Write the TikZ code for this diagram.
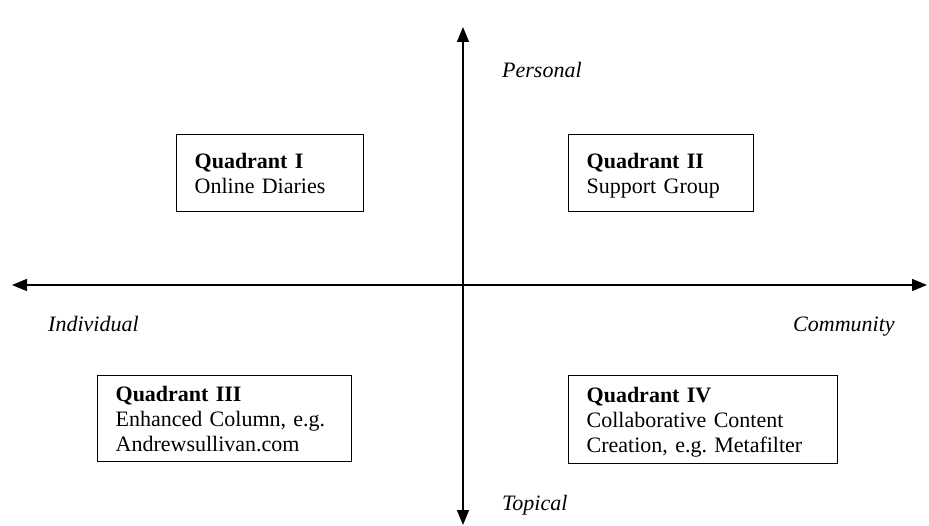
\documentclass[tikz,border=0pt]{standalone}
\usepackage{fontspec}
\setmainfont{Liberation Serif}
\usetikzlibrary{arrows.meta}
\frenchspacing

\begin{document}
\begin{tikzpicture}[x=1pt, y=-1pt,
		axis/.style={line width=1.5pt, {Triangle[length=15pt,width=12pt]}-{Triangle[length=15pt,width=12pt]}},
		quad/.style={draw, line width=1.3pt, anchor=north west, align=left, inner xsep=18pt, inner ysep=0pt,
			font=\fontsize{22}{25}\selectfont},
		axislabel/.style={anchor=base west, inner sep=0pt, font=\fontsize{22}{25}\selectfont\itshape}]
			\useasboundingbox (0,0) rectangle (929,526);
			
			% Axes
			\coordinate (top) at (463,27);
			\coordinate (bottom) at (463,525);
			\coordinate (left) at (12,285);
			\coordinate (right) at (927,285);
			\draw [axis] (bottom) -- (top);
			\draw [axis] (left) -- (right);
			
			% Axis labels
			\node [axislabel] (personal) at (502,78) {Personal};
			\node [axislabel] (individual) at (48,332) {Individual};
			\node [axislabel] (community) at (793,332) {Community};
			\node [axislabel] (topical) at (502,510) {Topical};
			
			% Quadrant boxes
			\node [quad, text width=151pt, minimum width=187pt, minimum height=77pt] (q1) at (176,134)
				{\rule{0pt}{23pt}\textbf{Quadrant I}\\Online Diaries\strut};
			\node [quad, text width=149pt, minimum width=185pt, minimum height=77pt] (q2) at (568,134)
				{\rule{0pt}{23pt}\textbf{Quadrant II}\\Support Group\strut};
			\node [quad, text width=218pt, minimum width=254pt, minimum height=86pt, inner xsep=16pt] (q3) at (97,375)
				{\rule{0pt}{23pt}\textbf{Quadrant III}\\Enhanced Column, e.g.\\Andrewsullivan.com\strut};
			\node [quad, text width=233pt, minimum width=269pt, minimum height=88pt] (q4) at (568,375)
				{\rule{0pt}{23pt}\textbf{Quadrant IV}\\Collaborative Content\\Creation, e.g. Metafilter\strut};
		\end{tikzpicture}
\end{document}
